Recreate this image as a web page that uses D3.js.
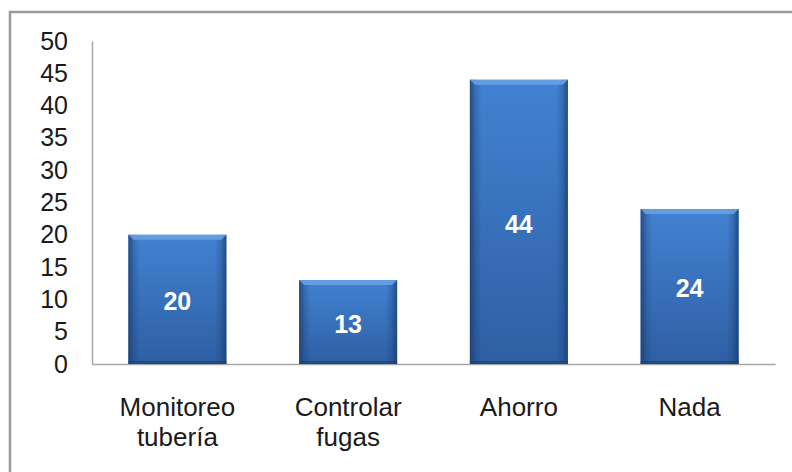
<!DOCTYPE html>
<html>
<head>
<meta charset="utf-8">
<script src="https://cdn.jsdelivr.net/npm/d3@7"></script>
<style>
  html, body { margin: 0; padding: 0; background: #fff; }
  svg text { font-family: "Liberation Sans", Arial, sans-serif; }
</style>
</head>
<body>
<div id="chart"></div>
<script>
// chart data
var categories = ["Monitoreo tubería", "Controlar fugas", "Ahorro", "Nada"];
var values = [20, 13, 44, 24];
var yTicks = [0, 5, 10, 15, 20, 25, 30, 35, 40, 45, 50];

var width = 792,
    height = 472,
    bevel = 5;

var svg = d3.select("#chart").append("svg")
    .attr("width", width)
    .attr("height", height);

// gradients for the bevelled bars
var defs = svg.append("defs");
var vg = defs.append("linearGradient").attr("id", "barV")
    .attr("x1", 0).attr("y1", 0).attr("x2", 0).attr("y2", 1);
vg.append("stop").attr("offset", "0%").attr("stop-color", "#4282d2");
vg.append("stop").attr("offset", "100%").attr("stop-color", "#2e5fa3");

var hg = defs.append("linearGradient").attr("id", "barH")
    .attr("x1", 0).attr("y1", 0).attr("x2", 1).attr("y2", 0);
hg.append("stop").attr("offset", "0%").attr("stop-color", "#173a6b").attr("stop-opacity", 0.75);
hg.append("stop").attr("offset", "6%").attr("stop-color", "#173a6b").attr("stop-opacity", 0.25);
hg.append("stop").attr("offset", "12%").attr("stop-color", "#173a6b").attr("stop-opacity", 0);
hg.append("stop").attr("offset", "88%").attr("stop-color", "#173a6b").attr("stop-opacity", 0);
hg.append("stop").attr("offset", "94%").attr("stop-color", "#173a6b").attr("stop-opacity", 0.25);
hg.append("stop").attr("offset", "100%").attr("stop-color", "#173a6b").attr("stop-opacity", 0.75);

// outer frame
svg.append("rect")
    .attr("x", 10).attr("y", 12)
    .attr("width", width + 20).attr("height", height + 20)
    .attr("fill", "none")
    .attr("stroke", "#9a9a9a")
    .attr("stroke-width", 2.5);

var x = d3.scaleBand()
    .domain(categories)
    .range([92, 775])
    .paddingInner(0.426)
    .paddingOuter(0.213);

var y = d3.scaleLinear()
    .domain([0, 50])
    .range([364, 41]);

// y axis
var yAxis = svg.append("g")
    .attr("transform", "translate(92,0)")
    .call(d3.axisLeft(y).tickValues(yTicks).tickSize(0).tickPadding(24));
yAxis.select(".domain").attr("stroke", "#a6a6a6").attr("stroke-width", 1.5);
yAxis.selectAll("text")
    .attr("font-size", "25px")
    .attr("fill", "#1a1a1a")
    .attr("font-family", "Liberation Sans, Arial, sans-serif");

// x axis
var xAxis = svg.append("g")
    .attr("transform", "translate(0," + y(0) + ")")
    .call(d3.axisBottom(x).tickSize(0).tickFormat(""));
xAxis.select(".domain").attr("stroke", "#a6a6a6").attr("stroke-width", 1.5);

// category labels, two lines each
svg.append("g").selectAll("text")
    .data(categories).enter()
    .append("text")
    .attr("text-anchor", "middle")
    .attr("font-size", "26px")
    .attr("fill", "#1a1a1a")
    .attr("x", function(d){ return x(d) + x.bandwidth() / 2; })
    .attr("y", 416)
    .each(function(d){
        var words = d.split(" ");
        var t = d3.select(this);
        words.forEach(function(w, i){
            t.append("tspan")
                .attr("x", x(d) + x.bandwidth() / 2)
                .attr("dy", i === 0 ? 0 : 30)
                .text(w);
        });
    });

// bars
var bars = svg.append("g").selectAll("g")
    .data(values).enter()
    .append("g")
    .attr("class", "bar");

bars.append("rect")
    .attr("x", function(d, i){ return x(categories[i]); })
    .attr("y", function(d){ return y(d); })
    .attr("width", x.bandwidth())
    .attr("height", function(d){ return y(0) - y(d); })
    .attr("fill", "url(#barV)");

bars.append("rect")
    .attr("x", function(d, i){ return x(categories[i]); })
    .attr("y", function(d){ return y(d); })
    .attr("width", x.bandwidth())
    .attr("height", function(d){ return y(0) - y(d); })
    .attr("fill", "url(#barH)");

// top bevel highlight
bars.append("path")
    .attr("fill", "#6aa2e4")
    .attr("fill-opacity", 0.85)
    .attr("d", function(d, i){
        var x0 = x(categories[i]), x1 = x0 + x.bandwidth(), y0 = y(d);
        return "M" + x0 + "," + y0 + "L" + x1 + "," + y0 +
            "L" + (x1 - bevel) + "," + (y0 + bevel) + "L" + (x0 + bevel) + "," + (y0 + bevel) + "Z";
    });

// bottom shade
bars.append("rect")
    .attr("x", function(d, i){ return x(categories[i]); })
    .attr("y", y(0) - 3)
    .attr("width", x.bandwidth())
    .attr("height", 3)
    .attr("fill", "#1d4275")
    .attr("fill-opacity", 0.7);

// value labels
bars.append("text")
    .attr("text-anchor", "middle")
    .attr("font-size", "25px")
    .attr("font-weight", "bold")
    .attr("fill", "#fff")
    .attr("x", function(d, i){ return x(categories[i]) + x.bandwidth() / 2; })
    .attr("y", function(d){ return (y(d) + y(0)) / 2 + 11; })
    .text(function(d){ return d; });
</script>
</body>
</html>
